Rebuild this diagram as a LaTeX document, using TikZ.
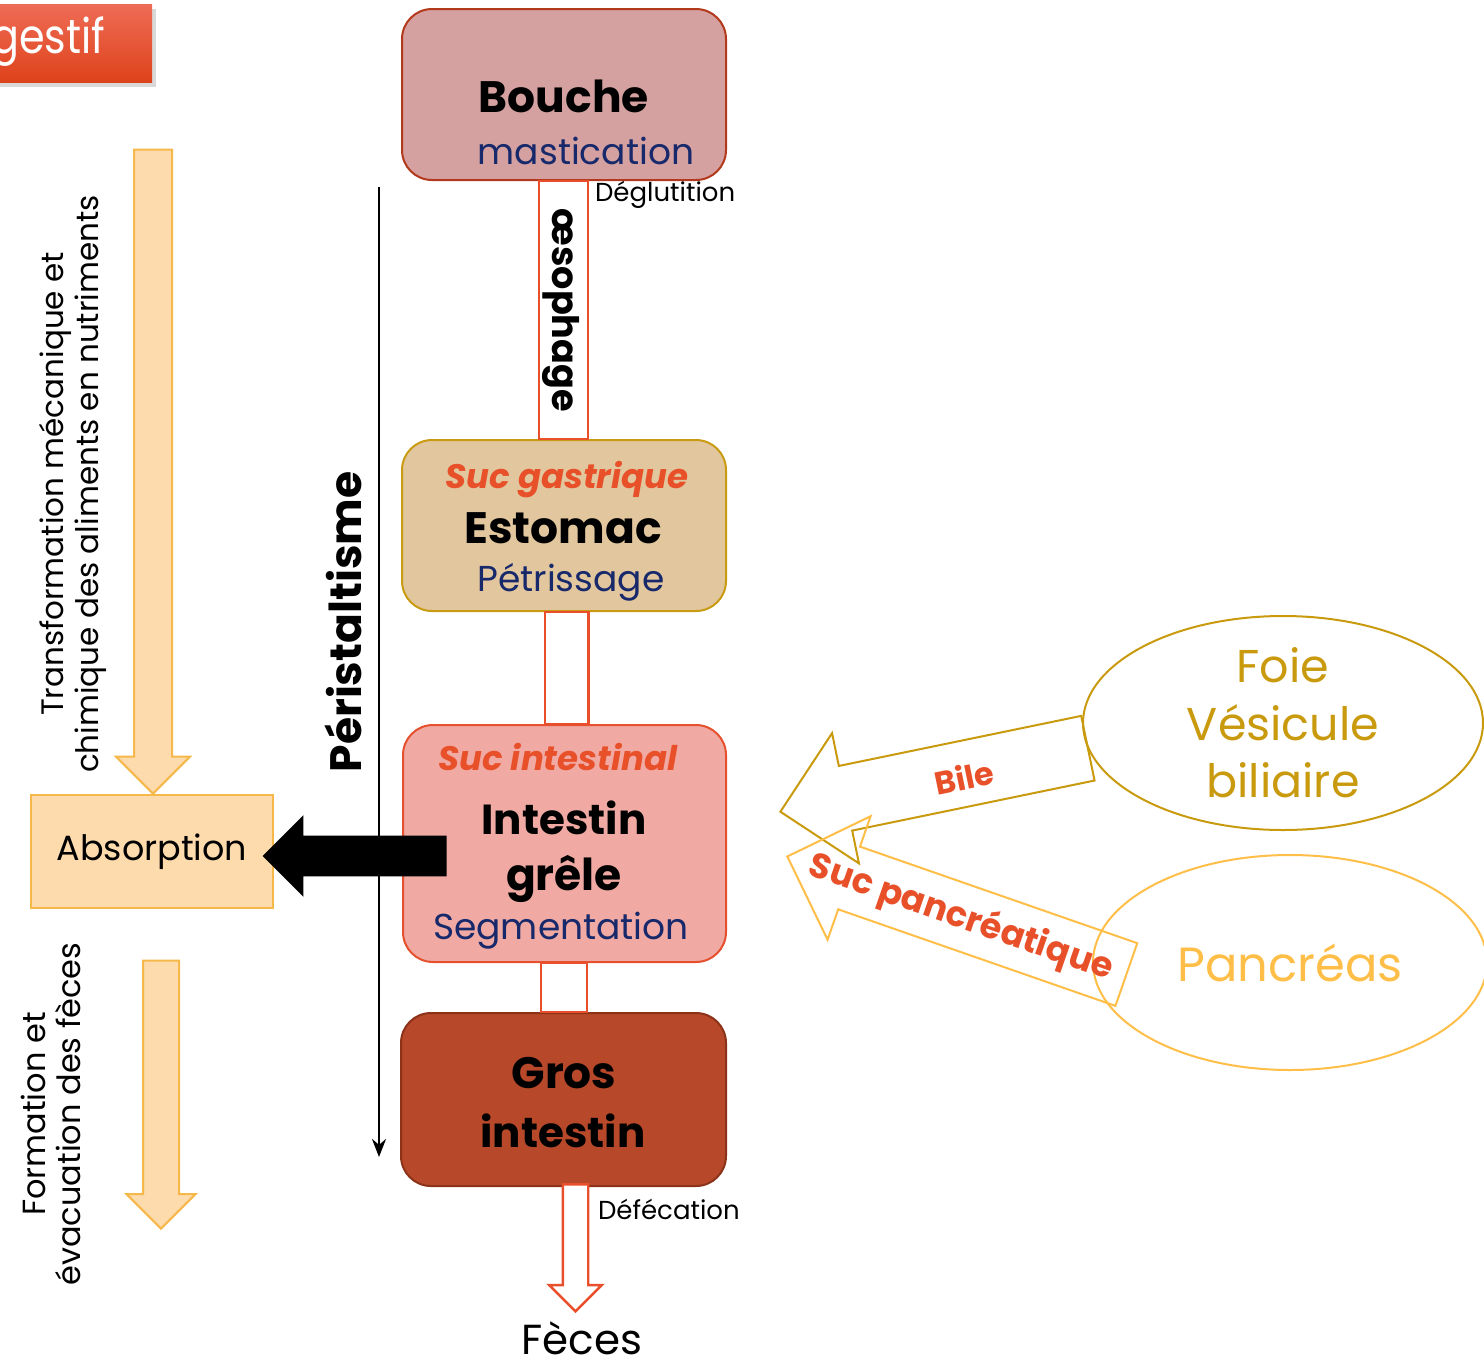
\documentclass[tikz,border=0pt]{standalone}
\usepackage{fontspec}
\setmainfont{Poppins}
\usetikzlibrary{positioning}
\usetikzlibrary{shapes.geometric}
\usetikzlibrary{shapes.arrows}
\usetikzlibrary{shadows}
\usetikzlibrary{arrows.meta}

\definecolor{bouchefond}{HTML}{D4A0A0}
\definecolor{bouchebord}{HTML}{B3391C}
\definecolor{estofond}{HTML}{E2C69D}
\definecolor{estobord}{HTML}{C89B12}
\definecolor{grelefond}{HTML}{F0AAA3}
\definecolor{grelebord}{HTML}{E5502E}
\definecolor{grosfond}{HTML}{B7492A}
\definecolor{grosbord}{HTML}{8C3218}
\definecolor{tubebord}{HTML}{EA4F2C}
\definecolor{bleuaction}{HTML}{17296B}
\definecolor{rougesuc}{HTML}{E8502A}
\definecolor{peche}{HTML}{FEDBAD}
\definecolor{pechebord}{HTML}{F6B84A}
\definecolor{orfoie}{HTML}{C99A0E}
\definecolor{orpancreas}{HTML}{FFBE48}
\definecolor{titrehaut}{HTML}{EE6C56}
\definecolor{titrebas}{HTML}{DE431B}

\tikzset{x=0.5pt, y=-0.5pt,
    organe/.style={
        draw, line width=1pt,
        rounded corners=15pt,
        minimum width=162pt,
        inner sep=0pt},
    tube/.style={
        draw=tubebord, fill=white,
        line width=1.2pt},
    nom/.style={font=\fontsize{22pt}{26pt}\selectfont\bfseries},
    action/.style={text=bleuaction, font=\fontsize{18pt}{22pt}\selectfont},
    suc/.style={text=rougesuc, font=\fontsize{17pt}{20pt}\selectfont\bfseries\itshape},
    petit/.style={font=\fontsize{13pt}{15pt}\selectfont},
    glande/.style={
        ellipse, line width=1pt,
        inner sep=0pt, align=center,
        font=\fontsize{23pt}{28.75pt}\selectfont},
    pleine/.style={
        single arrow, draw=pechebord, fill=peche,
        line width=1pt, inner xsep=0pt,
        anchor=tip, rotate=-90},
    secretion/.style={
        single arrow, line width=1pt,
        inner xsep=0pt, anchor=tip},
    penche/.style={text=rougesuc, font=\fontsize{17.5pt}{21pt}\selectfont\bfseries}
}

\begin{document}
\begin{tikzpicture}
    \useasboundingbox (0,0) rectangle (1484,1361);

    % titre
    \node[top color=titrehaut, bottom color=titrebas, minimum width=106pt, minimum height=39pt,
        drop shadow={opacity=0.3, shadow xshift=2pt, shadow yshift=-2.5pt}] (titre) at (46,43) {};
    \node[anchor=east, text=white, font=\fontsize{24pt}{28pt}\selectfont] (titretxt) at (112,42)
        {\scalebox{0.86}[1]{gestif}};

    % organes
    \node[organe, fill=bouchefond, draw=bouchebord, minimum height=85.5pt] (bouche) at (564,94.5) {};
    \node[organe, fill=estofond, draw=estobord, minimum height=85.5pt] (estomac) at (564,525.5) {};
    \node[organe, fill=grelefond, draw=grelebord, minimum height=118.5pt, minimum width=161.5pt] (grele) at (564.5,843.5) {};
    \node[organe, fill=grosfond, draw=grosbord, minimum height=86.5pt, minimum width=162.5pt] (gros) at (563.5,1099.5) {};

    \draw[tube] ([xshift=-12.5pt]bouche.south) rectangle ([xshift=12pt]estomac.north);
    \draw[tube] ([xshift=-9.5pt]estomac.south) rectangle ([xshift=12pt]grele.north);
    \draw[tube] ([xshift=-11.75pt]grele.south) rectangle ([xshift=11.75pt]gros.north);

    \node[nom] (bouchenom) at (564,96) {Bouche};
    \node[action] (mastication) at (586,151) {mastication};
    \node[petit, anchor=west] (deglutition) at (588,195) {Déglutition};
    \node[rotate=-90, font=\fontsize{18.3pt}{22pt}\selectfont\bfseries] (oeso) at (561,310) {œsophage};

    \node[suc] (sucgas) at (567,480) {Suc gastrique};
    \node[nom] (estomacnom) at (563,528) {Estomac};
    \node[action] (petrissage) at (571,582) {Pétrissage};

    \node[suc] (sucint) at (558,757) {Suc intestinal};
    \node[nom, font=\fontsize{21pt}{25pt}\selectfont\bfseries] (grelenom1) at (564,818) {Intestin};
    \node[nom] (grelenom2) at (564,879) {grêle};
    \node[action] (segmentation) at (561,931) {Segmentation};

    \node[nom] (grosnom1) at (564,1073) {Gros};
    \node[nom, font=\fontsize{21pt}{25pt}\selectfont\bfseries] (grosnom2) at (563,1131) {intestin};

    \node[single arrow, draw=tubebord, fill=white, line width=1.2pt, inner xsep=0pt, inner ysep=5.75pt,
        single arrow head extend=6.75pt, minimum height=63.5pt, rotate=-90, anchor=tip] (defecation) at (575.5,1313) {};
    \node[petit, anchor=west] (defectxt) at (591,1209) {Défécation};
    \node[font=\fontsize{21pt}{25pt}\selectfont] (feces) at (582,1338) {Fèces};

    % peristaltisme
    \coordinate (pdebut) at (379,187);
    \coordinate (pfin) at (379,1157);
    \draw[line width=1.25pt, -{Stealth[length=9pt,width=7pt]}] (pdebut) -- (pfin);
    \node[rotate=90, font=\fontsize{22pt}{26pt}\selectfont\bfseries] (peri) at (343,622) {Péristaltisme};

    % colonne de gauche
    \node[pleine, minimum height=322pt, inner ysep=9pt, single arrow head extend=9pt] (transfo) at (153,795) {};
    \node[rotate=90, align=center, font=\fontsize{15.5pt}{17.5pt}\selectfont] (transfotxt) at (73,484)
        {Transformation mécanique et\\chimique des aliments en nutriments};
    \node[draw=pechebord, fill=peche, line width=1pt, minimum width=121pt, minimum height=56.5pt,
        font=\fontsize{17.5pt}{21pt}\selectfont] (absorption) at (152,851.5) {Absorption};
    \node[pleine, minimum height=134pt, inner ysep=8.5pt, single arrow head extend=8.25pt] (formation) at (161,1230) {};
    \node[rotate=90, align=center, font=\fontsize{16pt}{17.5pt}\selectfont] (formationtxt) at (51,1114)
        {Formation et\\évacuation des fèces};

    \node[single arrow, fill=black, inner xsep=0pt, inner ysep=10pt, single arrow head extend=10.25pt,
        minimum height=92pt, rotate=180, anchor=tip] (passage) at (262,856) {};

    % glandes
    \node[glande, draw=orfoie, text=orfoie, minimum width=200pt, minimum height=107pt] (foie) at (1283,723)
        {Foie\\Vésicule\\biliaire};
    \node[glande, draw=orpancreas, text=orpancreas, minimum width=197pt, minimum height=107.5pt,
        font=\fontsize{24pt}{28pt}\selectfont] (pancreas) at (1290,962.5) {Pancréas};

    \node[secretion, draw=orfoie, rotate=191.67, minimum height=157pt, inner ysep=16pt,
        single arrow head extend=16.75pt] (bile) at (779,812) {};
    \node[penche, rotate=11.67, font=\fontsize{16pt}{19pt}\selectfont\bfseries] (biletxt) at (964,777) {Bile};
    \node[secretion, draw=orpancreas, rotate=160.8, minimum height=179.5pt, inner ysep=16.1pt,
        single arrow head extend=16.1pt] (pancsuc) at (786,856) {};
    \node[penche, rotate=-19.2] (pancsuctxt) at (961,918) {Suc pancréatique};
\end{tikzpicture}
\end{document}
